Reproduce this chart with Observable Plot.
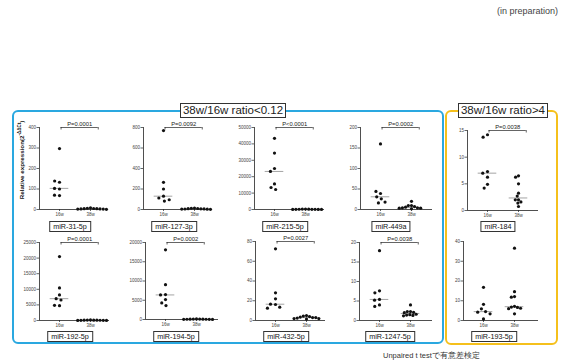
<!DOCTYPE html>
<html><head><meta charset="utf-8">
<script src="https://cdn.jsdelivr.net/npm/d3@7"></script>
<script src="https://cdn.jsdelivr.net/npm/@observablehq/plot@0.6"></script>
<style>
body{margin:0;background:#fff;font-family:"Liberation Sans",Arial,Helvetica,sans-serif;}
#root{position:relative;width:573px;height:362px;overflow:hidden;background:#fff;}
.grp{position:absolute;border:2px solid;border-radius:6px;box-sizing:border-box;}
.gtitle{position:absolute;background:#fff;border:1px solid #333;font-size:11.5px;line-height:12px;color:#222;box-sizing:border-box;text-align:center;white-space:nowrap;}
.mlabel{position:absolute;border:1px solid #333;font-size:7.2px;line-height:9px;height:11px;padding:0 3px;box-sizing:border-box;color:#111;background:#fff;white-space:nowrap;transform:translateX(-50%);}
.pn{position:absolute;}
.pn svg{overflow:visible;}
.txt{position:absolute;white-space:nowrap;}
</style></head>
<body><div id="root"></div>
<script>
// ---- data ----
const mirnas = ["miR-31-5p","miR-127-3p","miR-215-5p","miR-449a","miR-184","miR-192-5p","miR-194-5p","miR-432-5p","miR-1247-5p","miR-193-5p"];
const groups = ["16w","38w"];
const pValues = ["P=0.0001","P=0.0092","P<0.0001","P=0.0002","P=0.0038","P=0.0001","P=0.0002","P=0.0027","P=0.0038",null];

const mir31_16w = [297, 133, 139, 100, 103, 68, 70];
const mir31_38w = [8, 6, 5, 4, 4, 3, 3, 2, 2, 1];
const mir127_16w = [770, 265, 200, 130, 112, 82, 95];
const mir127_38w = [14, 12, 10, 8, 7, 6, 5, 4, 3, 2];
const mir215_16w = [43400, 34400, 25000, 23200, 15600, 13400, 12200];
const mir215_38w = [300, 250, 200, 150, 120, 100, 80, 60, 50, 40];
const mir449a_16w = [160, 39, 44, 31, 26, 16, 18];
const mir449a_38w = [20, 9.6, 9.6, 7.2, 5.6, 4, 4, 3.2, 3.2, 1.6];
const mir184_16w = [14.2, 13.75, 7.3, 7.0, 6.25, 4.9, 4.2];
const mir184_38w = [6.5, 6.25, 5.0, 3.25, 2.7, 2.0, 2.0, 1.6, 1.4, 0.75];
const mir192_16w = [20480, 10450, 8190, 7000, 6570, 4740, 4850];
const mir192_38w = [200, 150, 120, 100, 90, 80, 60, 50, 40, 30];
const mir194_16w = [18100, 9050, 6470, 6380, 5170, 4310, 3620];
const mir194_38w = [150, 120, 100, 90, 80, 70, 60, 50, 40, 30];
const mir432_16w = [72.6, 28, 22, 16.2, 16.5, 13.5, 12.5];
const mir432_38w = [5.0, 4.5, 4.0, 3.5, 3.0, 3.0, 2.5, 2.0, 2.0, 1.5];
const mir1247_16w = [17.9, 7.6, 7.1, 5.4, 5.2, 4.0, 3.6];
const mir1247_38w = [4.0, 2.3, 2.3, 2.1, 2.0, 1.6, 1.5, 1.4, 1.3, 1.2];
const mir193_16w = [16.8, 8.2, 5.9, 4.5, 4.2, 3.4, 0.8];
const mir193_38w = [36.6, 14.6, 12.1, 11.8, 7.2, 6.8, 6.6, 6.2, 6.0, 3.4];

const yTicks = [
  [0,100,200,300,400],
  [0,200,400,600,800],
  [0,10000,20000,30000,40000,50000],
  [0,50,100,150,200],
  [0,5,10,15],
  [0,5000,10000,15000,20000,25000],
  [0,5000,10000,15000,20000],
  [0,20,40,60,80],
  [0,5,10,15,20],
  [0,10,20,30,40]
];

const values = [
  [mir31_16w, mir31_38w], [mir127_16w, mir127_38w], [mir215_16w, mir215_38w],
  [mir449a_16w, mir449a_38w], [mir184_16w, mir184_38w], [mir192_16w, mir192_38w],
  [mir194_16w, mir194_38w], [mir432_16w, mir432_38w], [mir1247_16w, mir1247_38w],
  [mir193_16w, mir193_38w]
];

// ---- layout (pixel positions of each panel's axes) ----
const layout = [
  {ax:39, top:127, zero:209, w:61, lab:221},
  {ax:143, top:127, zero:209, w:64, lab:221},
  {ax:254, top:127, zero:209, w:70, lab:221},
  {ax:360, top:127, zero:209, w:72, lab:221},
  {ax:467, top:130, zero:210, w:71, lab:221},
  {ax:39, top:242, zero:320, w:70, lab:331},
  {ax:145, top:242, zero:319, w:73, lab:331},
  {ax:255, top:241, zero:320, w:70, lab:331},
  {ax:359, top:242, zero:320, w:73, lab:331},
  {ax:463, top:241, zero:320, w:75, lab:331}
];
const dodgePad = [1.8, 0];

const root = document.getElementById("root");
function add(html){ const d=document.createElement("div"); d.innerHTML=html; const e=d.firstElementChild; root.appendChild(e); return e; }

// group boxes
add(`<div class="grp" style="left:12px;top:110px;width:432px;height:234px;border-color:#2aa8e0;"></div>`);
add(`<div class="grp" style="left:445px;top:110px;width:113px;height:235px;border-color:#f5c01c;"></div>`);
add(`<div class="gtitle" style="left:180px;top:103px;width:106px;height:15px;">38w/16w ratio&lt;0.12</div>`);
add(`<div class="gtitle" style="left:458px;top:103px;width:90px;height:15px;">38w/16w ratio&gt;4</div>`);

add(`<div class="txt" style="left:497px;top:6px;font-size:9px;color:#444;">(in preparation)</div>`);
add(`<div class="txt" style="left:383px;top:351px;font-size:7.5px;color:#333;">Unpaired t testで有意差検定</div>`);
add(`<div class="txt" style="left:21px;top:160px;font-size:6.2px;font-weight:bold;color:#111;transform:translate(-50%,-50%) rotate(-90deg);">Relative expression(2<sup style="font-size:4.5px">-ΔΔCt</sup>)</div>`);

const mL = 26, mR = 3, mT = 14, mB = 9, unit = 31, off = 20;

function panel(i){
  const L = layout[i];
  const plotH = L.zero - L.top;
  const width = mL + L.w + mR, height = mT + plotH + mB;
  const xDom = [-off/unit, (L.w - off)/unit];
  const ticks = yTicks[i];
  const max = ticks[ticks.length-1];
  const dxFor = k => off + k*unit - L.w/2;
  const marks = [
    Plot.ruleX([xDom[0]], {y1: 0, y2: max, stroke: "#222", strokeWidth: 0.8}),
    Plot.ruleY([0], {stroke: "#222", strokeWidth: 0.8}),
    Plot.axisY({ticks, tickSize: 2.5, tickPadding: 1, fontSize: 4.5, label: null, tickFormat: d => String(d), stroke: "#222", strokeWidth: 0.7, fill: "#444"}),
    Plot.axisX({ticks: [0,1], tickFormat: k => groups[k], tickSize: 2, tickPadding: 1, fontSize: 4.5, label: null, stroke: "#222", strokeWidth: 0.7, fill: "#444"})
  ];
  groups.forEach((g,k) => {
    marks.push(Plot.ruleY([d3.median(values[i][k])], {x1: k-0.3, x2: k+0.3, stroke: "#666", strokeWidth: 0.6}));
  });
  groups.forEach((g,k) => {
    marks.push(Plot.dot(values[i][k], Plot.dodgeX({anchor: "middle", padding: dodgePad[k]}, {y: d => d, r: 1.6, fill: "#111", dx: dxFor(k)})));
  });
  if (pValues[i]) {
    marks.push(Plot.ruleY([max], {x1: 0.05, x2: 1.25, stroke: "#222", strokeWidth: 0.7}));
    marks.push(Plot.ruleX([0.05, 1.25], {y1: max, y2: max, insetBottom: -2.5, stroke: "#222", strokeWidth: 0.7}));
    marks.push(Plot.text([pValues[i]], {x: 0.65, y: max, dy: -1.5, lineAnchor: "bottom", fontSize: 5.8, fill: "#222", text: d => d}));
  }
  const svg = Plot.plot({
    width, height, marginLeft: mL, marginRight: mR, marginTop: mT, marginBottom: mB,
    x: {domain: xDom},
    y: {domain: [0, max]},
    style: {fontFamily: "'Liberation Sans', Arial, sans-serif", fontSize: "4.5px", background: "transparent", overflow: "visible"},
    marks
  });
  const div = document.createElement("div");
  div.className = "pn";
  div.style.left = (L.ax - mL) + "px";
  div.style.top = (L.top - mT) + "px";
  div.appendChild(svg);
  root.appendChild(div);
  add(`<div class="mlabel" style="left:${L.ax + 31}px;top:${L.lab}px;">${mirnas[i]}</div>`);
}
for (let i = 0; i < mirnas.length; i++) panel(i);
</script>
</body></html>
